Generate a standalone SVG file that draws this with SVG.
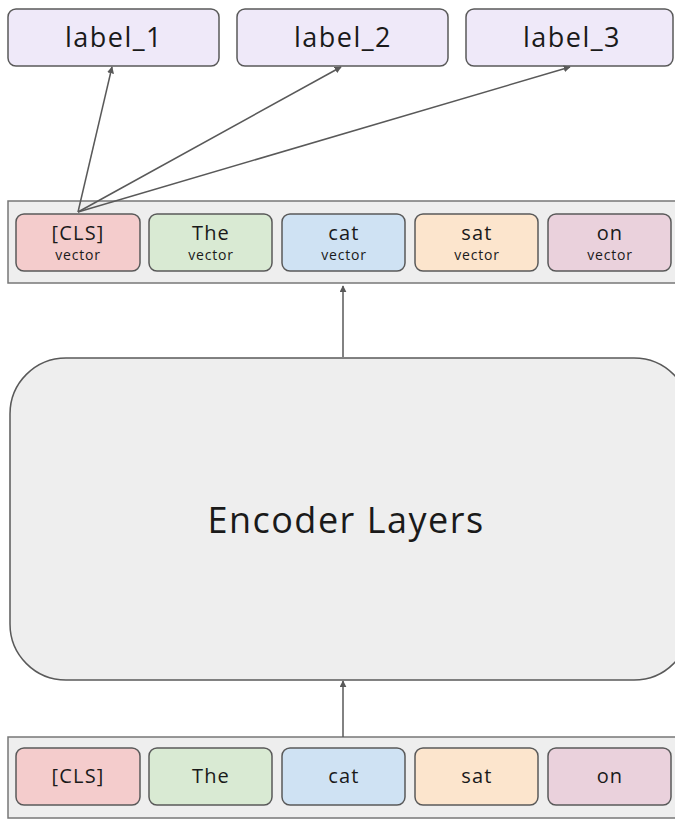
<svg xmlns="http://www.w3.org/2000/svg" width="675" height="819" viewBox="0 0 675 819">
<defs>
<marker id="ah" viewBox="0 0 10 10" refX="9" refY="5" markerWidth="7" markerHeight="7" orient="auto-start-reverse" markerUnits="userSpaceOnUse">
<path d="M0,0 L10,5 L0,10 z" fill="#595959"/>
</marker>
<style>
text{font-family:"Open Sans","Liberation Sans",sans-serif;fill:#1a1a1a;text-anchor:middle}
.lbl rect{fill:#efe9f9;stroke:#595959;stroke-width:1.5}
.lbl text{font-size:27px;letter-spacing:1.5px}
.cont{fill:#eeeeee;stroke:#777777;stroke-width:1.5}
.tok{stroke:#595959;stroke-width:1.5}
.t{font-size:20px;letter-spacing:1.2px}
.v{font-size:14px;letter-spacing:0.8px}
.c1{fill:#f4cccc}.c2{fill:#d9ead3}.c3{fill:#cfe2f3}.c4{fill:#fce5cd}.c5{fill:#ead1dc}
.conn line{stroke:#595959;stroke-width:1.5;marker-end:url(#ah)}
</style>
</defs>
<rect width="675" height="819" fill="#ffffff"/>

<g id="label_1" class="lbl"><rect x="8" y="9" width="211" height="57" rx="8"/><text x="114" y="47">label_1</text></g>
<g id="label_2" class="lbl"><rect x="237" y="9" width="211" height="57" rx="8"/><text x="343" y="47">label_2</text></g>
<g id="label_3" class="lbl"><rect x="466" y="9" width="207" height="57" rx="8"/><text x="572" y="47">label_3</text></g>

<g id="output_vectors">
<rect class="cont" x="8" y="201" width="672" height="82"/>
<g id="out_cls"><rect class="tok c1" x="16" y="214" width="124" height="57" rx="8"/><text class="t" x="78" y="240">[CLS]</text><text class="v" x="78" y="260">vector</text></g>
<g id="out_the"><rect class="tok c2" x="149" y="214" width="123" height="57" rx="8"/><text class="t" x="211" y="240">The</text><text class="v" x="211" y="260">vector</text></g>
<g id="out_cat"><rect class="tok c3" x="282" y="214" width="123" height="57" rx="8"/><text class="t" x="344" y="240">cat</text><text class="v" x="344" y="260">vector</text></g>
<g id="out_sat"><rect class="tok c4" x="415" y="214" width="123" height="57" rx="8"/><text class="t" x="477" y="240">sat</text><text class="v" x="477" y="260">vector</text></g>
<g id="out_on"><rect class="tok c5" x="548" y="214" width="123" height="57" rx="8"/><text class="t" x="610" y="240">on</text><text class="v" x="610" y="260">vector</text></g>
</g>

<g id="encoder">
<rect x="10" y="358" width="680" height="322" rx="56" fill="#eeeeee" stroke="#595959" stroke-width="1.5"/>
<text x="346" y="533" style="font-size:36px;letter-spacing:1.5px">Encoder Layers</text>
</g>

<g id="input_tokens">
<rect class="cont" x="8" y="737" width="672" height="81"/>
<g id="in_cls"><rect class="tok c1" x="16" y="748" width="124" height="57" rx="8"/><text class="t" x="78" y="783">[CLS]</text></g>
<g id="in_the"><rect class="tok c2" x="149" y="748" width="123" height="57" rx="8"/><text class="t" x="211" y="783">The</text></g>
<g id="in_cat"><rect class="tok c3" x="282" y="748" width="123" height="57" rx="8"/><text class="t" x="344" y="783">cat</text></g>
<g id="in_sat"><rect class="tok c4" x="415" y="748" width="123" height="57" rx="8"/><text class="t" x="477" y="783">sat</text></g>
<g id="in_on"><rect class="tok c5" x="548" y="748" width="123" height="57" rx="8"/><text class="t" x="610" y="783">on</text></g>
</g>

<g id="connectors" class="conn">
<line x1="78" y1="212" x2="112" y2="67"/>
<line x1="78" y1="212" x2="341" y2="67"/>
<line x1="78" y1="212" x2="570" y2="67"/>
<line x1="343" y1="357" x2="343" y2="286"/>
<line x1="343" y1="737" x2="343" y2="681"/>
</g>
</svg>
